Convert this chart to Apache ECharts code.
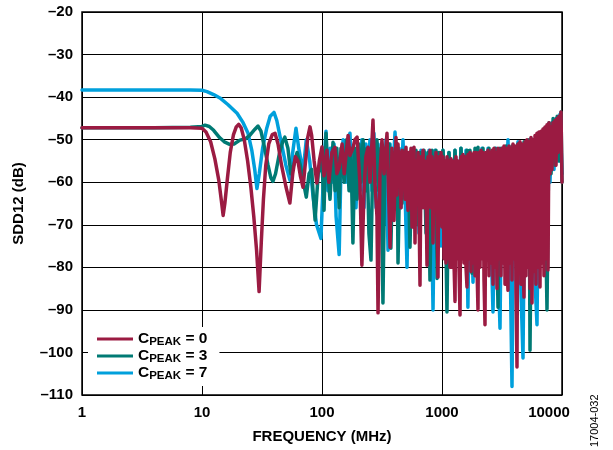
<!DOCTYPE html>
<html><head><meta charset="utf-8">
<script src="https://cdn.jsdelivr.net/npm/echarts@6/dist/echarts.min.js"></script>
<style>html,body{margin:0;padding:0;background:#fff}#c{width:613px;height:450px}</style>
</head><body><div id="c"></div>
<script>
const seriesNames = ['CPEAK = 0', 'CPEAK = 3', 'CPEAK = 7'];
const xTickLabels = ['1', '10', '100', '1000', '10000'];
const yRange = [-110, -20];
const yStep = 10;
const xTitle = 'FREQUENCY (MHz)';
const yTitle = 'SDD12 (dB)';
const figureId = '17004-032';

// [frequency MHz, dB]
const cpeak0 = [
 [1,-47.2],[4,-47.2],[8,-47.2],[10,-47.3],[10.8,-48.2],[11.8,-50.5],[12.8,-54.5],[13.8,-59.5],[14.6,-65],[15,-67.8],[15.5,-65],[16.3,-59],[17.2,-53],[18.3,-48.8],[19.3,-47],[20.2,-46.4],[21.2,-47.2],[22.5,-50],[24,-55],[25.5,-61],[27,-68],[28.5,-76],[29.9,-85.7],[31.2,-74],[32.5,-64],[34,-56],[36,-51],[38.5,-48.8],[40.6,-48.5],[43,-51],[46,-56],[50,-61],[54,-64.9],[57,-58],[60,-54],[63,-55],[66,-58.5],[69.5,-61.2],[73,-55],[76,-49.5],[79.4,-47],[82,-49],[86,-55],[90.6,-60.2],[95,-55],[100,-51.7],
 [104,-58.5],[110,-52.5],[114,-60],[121,-53],[128,-51.8],[133,-58],[139,-56.5],[147,-51],[153,-58],[165,-49],[171,-53.7],[181,-52],[188,-50],[196,-49.4],[207,-60],[215,-79.5],[224,-62],[232,-54],[242,-51.8],[251,-60],[266,-45.4],[276,-60],[287,-68],[293,-90.7],[304,-58],[316,-50],[329,-58],[348,-48.5],[369,-75.3],[383,-52],[398,-69],
 [413.7,-49.5],[421.7,-63],[429.9,-51],[438.2,-60],[446.7,-53],[455.4,-66],[464.2,-52.5],[473.2,-61],[482.3,-53],[491.7,-64],[501.2,-51.8],[510.9,-62],[520.8,-66.6],[530.9,-53],[541.2,-60],[551.7,-52],[562.3,-70.5],[573.2,-54],[584.3,-51.8],[595.7,-74.3],[607.2,-55],[619,-62],[631,-53],[643.2,-66],[655.7,-84.2],[668.3,-54],[681.3,-64],[694.5,-52.5],[708,-66],[721.7,-55],[735.6,-62],[749.9,-79.5],[764.4,-54],[779.2,-64],[794.3,-52.5],[809.7,-66],[825.4,-54],[841.4,-74.3],[857.7,-55],[874.3,-63],[891.3,-53],[908.5,-68],[926.1,-82.3],[944.1,-54],[962.3,-65],[981,-53],[1000,-70.5],
 [1019,-54],[1039,-78],[1059,-55],[1080,-79],[1101,-54],[1122,-78],[1144,-55],[1166,-80],[1189,-54.5],[1212,-80],[1235,-55],[1259,-79],[1284,-88],[1309,-54],[1334,-78],[1360,-55],[1386,-80],[1413,-91.2],[1440,-54],[1468,-78],[1496,-53.5],[1525,-79],[1555,-54],[1585,-80],[1616,-84.6],[1647,-53.5],[1679,-78],[1711,-53],[1744,-81],[1778,-53.5],[1813,-79],[1848,-53],[1884,-82],[1920,-53],[1957,-80],[1995,-90],[2034,-53],[2074,-80],[2113,-52.5],[2154,-78],[2196,-53],[2239,-83],[2282,-93.5],[2326,-53],[2371,-78],[2417,-52.5],[2464,-82],[2512,-53],[2560,-79],[2610,-52.5],[2661,-84],[2712,-52],[2765,-80],[2818,-53],[2873,-85],[2929,-52],[2985,-78],[3043,-52.5],[3102,-82],[3162,-52],[3223,-79],[3286,-51.5],[3350,-84],[3415,-52],[3481,-80],[3548,-85.4],[3617,-51.5],[3687,-79],[3758,-52],[3831,-83],[3905,-51],[3981,-78],[4058,-51.5],[4137,-86],[4217,-103.4],[4299,-51],[4382,-80],[4467,-50.5],[4554,-84],[4642,-51],[4732,-79],[4823,-87],[4917,-50.5],[5012,-82],[5109,-50],[5208,-80],[5309,-50.5],[5412,-85],[5517,-49.5],[5623,-88.4],[5732,-50],[5843,-81],[5957,-49],[6072,-84],[6190,-48.5],[6310,-80],[6432,-48.2],[6556,-84.6],[6683,-48],[6813,-79],[6945,-47.5],[7079,-82],[7217,-47],[7356,-78],[7499,-46.5],[7644,-80.6],[7792,-46],[7943,-58],
 [8097,-47],[8254,-57],[8414,-46],[8577,-54],[8743,-45.5],[8913,-56],[9085,-45],[9261,-53],[9441,-44.5],[9624,-52],[9810,-43.5],[10000,-60]
];
const cpeak3 = [
 [1,-47.2],[4,-47.2],[8,-47.1],[10,-46.9],[10.6,-46.6],[11.5,-46.9],[12.5,-47.8],[14,-49.5],[15.5,-50.6],[17,-51.1],[18.5,-51],[20.7,-50.1],[23,-49.8],[25,-49],[27.5,-47.6],[29.3,-46.8],[31,-48],[33,-51.5],[35.5,-56],[37.5,-59],[39,-59.8],[41,-58],[44,-53.5],[47,-50.5],[49,-49.4],[52,-52],[55,-58],[58,-56],[62,-53],[66,-56],[70,-60],[74,-63.5],[78,-58],[82,-57],[85,-64],[87.6,-68.9],[93,-58],[100,-55],
 [104,-66.6],[108,-48.5],[112,-58],[116.6,-64],[123.5,-50.6],[128.4,-62],[133,-52],[139,-66],[144,-52],[153,-60],[160,-50],[168,-62],[174,-52],[181,-74.3],[188,-52],[196,-64],[203,-51],[211,-60],[220,-50],[228,-62],[237,-52],[246,-72],[256,-78.3],[266,-52],[276,-60],[287,-50],[298,-62],[310,-52],[322,-88.4],[335,-53],[348,-58],[362,-51],[375,-75.5],[390,-53],[406,-62],[422,-52],[430,-79],[447,-54],[464,-65],[482,-52.5],[501,-62],[521,-53],[541,-75.3],[562,-53],[584,-65],[607,-52.5],[631,-70],[656,-53],[681,-66],[708,-52.5],[736,-72],[764,-53],[794,-83],[826,-52.5],[858,-68],[891,-52.5],[909,-82.6],[944,-53],[981,-70],
 [1019,-52.5],[1059,-60],[1100,-90.5],[1143,-53],[1212,-72],[1283,-52.5],[1359,-76],[1439,-52],[1526,-70],[1616,-52.5],[1670,-68],[1711,-52.5],[1778,-81.4],[1884,-52],[1940,-70],[1995,-51.8],[2073,-75],[2197,-52],[2327,-78],[2464,-52],[2610,-75],[2765,-52],[2930,-89.4],[3043,-52],[3224,-76],[3415,-51.5],[3620,-78],[3831,-51.5],[4055,-72],[4295,-51],[4553,-80],[4823,-50.5],[5108,-75],[5309,-50],[5412,-99.5],[5623,-50],[5957,-78],[6310,-48.5],[6683,-75],[7079,-47.5],[7499,-90],[7798,-46],[8110,-58],[8433,-45],[8770,-56],[9120,-44.5],[9484,-55],[9810,-43.5],[10000,-60]
];
const cpeak7 = [
 [1,-38.3],[4,-38.3],[8,-38.3],[10,-38.4],[11,-38.7],[12.5,-39.4],[14.1,-40.2],[16.5,-41.8],[19.6,-43.8],[22,-46],[24.2,-48.5],[26,-52.5],[27.5,-57],[28.7,-61.5],[30,-58],[32,-52],[34.5,-47.5],[37,-44.5],[39.8,-43.6],[42,-45.5],[46,-51],[50,-56],[54,-59.5],[57,-53],[60.7,-47.3],[64,-52],[69.5,-57.6],[74,-50],[79,-55],[84,-63],[90,-70],[98,-73.2],
 [104,-55],[108,-48],[112,-62],[117,-52],[121,-60],[126,-51],[131,-68],[139,-77],[144,-56],[150,-50],[158,-60],[165,-50],[171,-48.5],[178,-60],[185,-53],[192,-66],[200,-52],[207,-62],[215,-50],[224,-66],[232,-51],[242,-59],[251,-50],[261,-62],[271,-48.5],[282,-66],[293,-51],[304,-60],[316,-52],[329,-70],[341,-50],[355,-76],[369,-51],[383,-62],[406,-48.2],[422,-60],[439,-52],[455,-66],[473,-50],[492,-62],[511,-80],[531,-55],[552,-70],[573,-52],[596,-62],[619,-53],[643,-72],[668,-52.5],[694,-64],[722,-53],[750,-70],[779,-52.5],[810,-62],[842,-90],[874,-52.5],[909,-64],[944,-53],[981,-75],
 [1019,-52.5],[1080,-68],[1143,-53],[1212,-76],[1283,-52.5],[1359,-70],[1439,-52],[1526,-74],[1585,-52.5],[1644,-89.4],[1711,-53],[1813,-83.5],[1921,-52.5],[2034,-72],[2154,-52],[2282,-76],[2418,-52],[2561,-74],[2661,-90.5],[2818,-52],[2930,-78],[3043,-94.3],[3162,-52],[3350,-72],[3548,-50],[3687,-76],[3831,-108],[3981,-52],[4135,-70],[4295,-50.5],[4467,-78],[4732,-101.3],[4917,-51],[5208,-72],[5516,-49.7],[5843,-78],[6190,-93.5],[6431,-49.5],[6813,-72],[7079,-48],[7356,-68],[7640,-47],[7943,-60],[8254,-46],[8577,-57],[8913,-45],[9261,-55],[9624,-44],[10000,-58]
];
const seriesColors = ['#9B1B42', '#007A74', '#00A0DC'];

const FONT = "'Liberation Sans', Arial, Helvetica, sans-serif";
const chart = echarts.init(document.getElementById('c'), null, {renderer: 'canvas'});
function mkSeries(name, data, color) {
  return {
    name, type: 'line', data, showSymbol: false, symbol: 'none', animation: false,
    lineStyle: {color, width: 3.5, join: 'round', cap: 'round'},
    itemStyle: {color}, emphasis: {disabled: true}
  };
}
chart.setOption({
  animation: false,
  grid: {left: 82, right: 51, top: 12, bottom: 55, show: true, borderColor: '#000', borderWidth: 1.5},
  xAxis: {
    type: 'log', logBase: 10, min: 1, max: 10000,
    name: xTitle, nameLocation: 'middle', nameGap: 34,
    nameTextStyle: {fontFamily: FONT, fontWeight: 'bold', fontSize: 15, color: '#000'},
    axisLine: {show: false}, axisTick: {show: false}, minorTick: {show: false},
    splitLine: {show: true, lineStyle: {color: '#000', width: 1}},
    axisLabel: {
      margin: 10, fontFamily: FONT, fontWeight: 'bold', fontSize: 15, color: '#000',
      formatter: (v, i) => i === xTickLabels.length - 1 ? '{r|' + xTickLabels[i] + '}' : xTickLabels[i],
      rich: {r: {fontFamily: FONT, fontWeight: 'bold', fontSize: 15, color: '#000', padding: [0, 26, 0, 0]}}
    }
  },
  yAxis: {
    type: 'value', min: yRange[0], max: yRange[1], interval: yStep,
    name: yTitle, nameLocation: 'middle', nameGap: 56,
    nameTextStyle: {fontFamily: FONT, fontWeight: 'bold', fontSize: 15, color: '#000'},
    axisLine: {show: false}, axisTick: {show: false},
    splitLine: {show: true, lineStyle: {color: '#000', width: 1}},
    axisLabel: {margin: 9, fontFamily: FONT, fontWeight: 'bold', fontSize: 15, color: '#000',
      formatter: v => String(v).replace('-', '\u2013')}
  },
  legend: {
    data: seriesNames, orient: 'vertical', left: 88, top: 327,
    backgroundColor: '#fff', padding: [4, 12, 4, 9], itemGap: 0,
    icon: 'rect', itemWidth: 36, itemHeight: 3, selectedMode: false,
    formatter: name => name.replace(/^C(PEAK)(.*)$/, '{c|C}{s|$1}{c|$2}'),
    textStyle: {
      fontFamily: FONT, fontWeight: 'bold', fontSize: 15.5, color: '#000',
      rich: {
        c: {fontFamily: FONT, fontWeight: 'bold', fontSize: 15.5, color: '#000', lineHeight: 18, verticalAlign: 'middle'},
        s: {fontFamily: FONT, fontWeight: 'bold', fontSize: 11.5, color: '#000', lineHeight: 11, verticalAlign: 'bottom'}
      }
    }
  },
  graphic: [{
    type: 'text', x: 600, y: 447, rotation: Math.PI / 2,
    style: {text: figureId, fontFamily: FONT, fontSize: 11, fill: '#000', textAlign: 'left', textVerticalAlign: 'bottom'}
  }],
  series: [
    mkSeries(seriesNames[2], cpeak7, seriesColors[2]),
    mkSeries(seriesNames[1], cpeak3, seriesColors[1]),
    mkSeries(seriesNames[0], cpeak0, seriesColors[0])
  ]
});
</script></body></html>
